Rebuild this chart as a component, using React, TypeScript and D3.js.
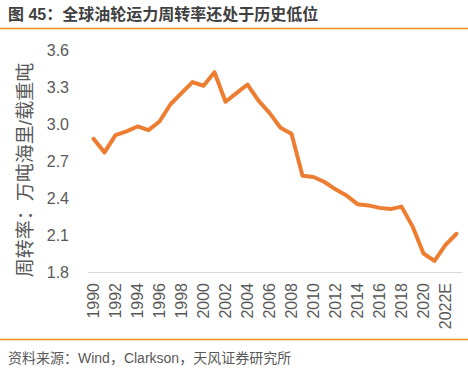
import React from "react";
import * as d3 from "d3";

const years = [
  "1990","1991","1992","1993","1994","1995","1996","1997","1998","1999",
  "2000","2001","2002","2003","2004","2005","2006","2007","2008","2009",
  "2010","2011","2012","2013","2014","2015","2016","2017","2018","2019",
  "2020","2021","2022E","2023E",
];
const turnover = [
  2.88, 2.77, 2.91, 2.94, 2.98, 2.95, 3.02, 3.16, 3.25, 3.34,
  3.31, 3.42, 3.18, 3.25, 3.32, 3.19, 3.09, 2.97, 2.92, 2.58,
  2.57, 2.53, 2.47, 2.42, 2.35, 2.34, 2.32, 2.31, 2.33, 2.17,
  1.95, 1.89, 2.02, 2.11,
];
const yTicks = [1.8, 2.1, 2.4, 2.7, 3.0, 3.3, 3.6];
const title = "图 45：全球油轮运力周转率还处于历史低位";
const yTitle = "周转率：万吨海里/载重吨";
const source = "资料来源：Wind，Clarkson，天风证券研究所";

const W = 468;
const H = 370;
const FONT = "'Liberation Sans', Arial, 'Noto Sans CJK SC', sans-serif";

export default function App() {
  const x = d3.scaleBand<string>().domain(years).range([88, 462]);
  const y = d3.scaleLinear().domain([1.8, 3.6]).range([272, 50]);
  const cx = (d: string) => (x(d) as number) + x.bandwidth() / 2;
  const line = d3
    .line<number>()
    .x((_, i) => cx(years[i]))
    .y((v) => y(v));

  return (
    <svg
      width={W}
      height={H}
      style={{ position: "absolute", left: 0, top: 0, background: "#fff" }}
      fontFamily={FONT}
    >
      <text x={8} y={20} fontSize={16} fontWeight="bold" fill="#404040">
        {title}
      </text>
      <line x1={0} x2={W} y1={28.5} y2={28.5} stroke="#F28A1E" strokeWidth={1.5} />

      <text
        transform={`translate(25, ${(58 + 282) / 2}) rotate(-90)`}
        textAnchor="middle"
        dominantBaseline="central"
        fontSize={19}
        fill="#595959"
      >
        {yTitle}
      </text>

      {yTicks.map((t) => (
        <text
          key={t}
          x={69}
          y={y(t)}
          dy="0.35em"
          textAnchor="end"
          fontSize={16}
          fill="#595959"
        >
          {t.toFixed(1)}
        </text>
      ))}

      <line x1={88} x2={462} y1={272.5} y2={272.5} stroke="#D9D9D9" strokeWidth={1} />

      {years.map((yr, i) =>
        i % 2 === 0 ? (
          <text
            key={yr}
            transform={`translate(${cx(yr)}, 283) rotate(-90)`}
            dy="0.35em"
            textAnchor="end"
            fontSize={16}
            fill="#595959"
          >
            {yr}
          </text>
        ) : null
      )}

      <path
        d={line(turnover) || ""}
        fill="none"
        stroke="#ED7D31"
        strokeWidth={4}
        strokeLinejoin="round"
        strokeLinecap="round"
      />

      <line x1={0} x2={W} y1={339.5} y2={339.5} stroke="#F28A1E" strokeWidth={1.5} />
      <text x={8} y={363} fontSize={14} fill="#595959">
        {source}
      </text>
    </svg>
  );
}
